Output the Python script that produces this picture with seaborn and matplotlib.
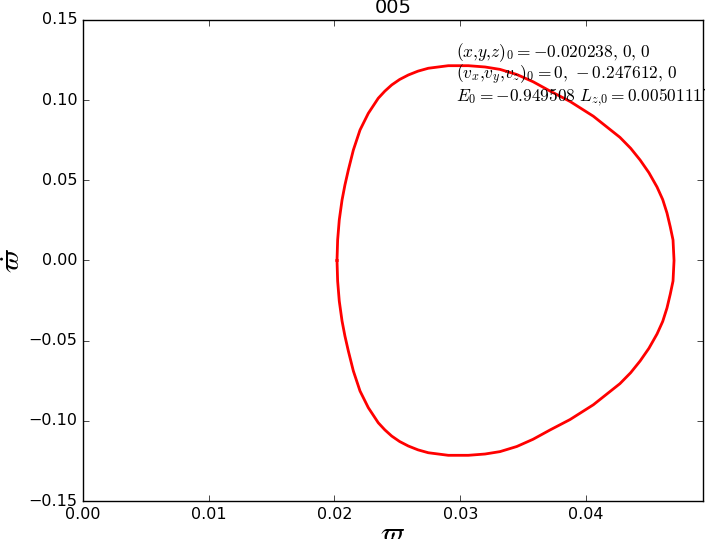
import matplotlib
matplotlib.use("Agg")
import matplotlib.pyplot as plt
import pandas as pd
import seaborn as sns

# upper half of the orbit (left turning point -> top -> right turning point)
varpi_upper = [0.02020, 0.02025, 0.02038, 0.02060, 0.02083, 0.02110, 0.02150,
               0.02203, 0.02269, 0.02348, 0.02400, 0.02455, 0.02518, 0.02587,
               0.02664, 0.02746, 0.02905, 0.03064, 0.03197, 0.03316, 0.03450,
               0.03579, 0.03714, 0.03873, 0.04058, 0.04270, 0.04355, 0.04430,
               0.04500, 0.04565, 0.04610, 0.04644, 0.04670, 0.04692, 0.04700]
vdot_upper = [0.0000, 0.0128, 0.0253, 0.0377, 0.0471, 0.0564, 0.0689,
              0.0814, 0.0918, 0.1012, 0.1056, 0.1095, 0.1129, 0.1157,
              0.1181, 0.1199, 0.1215, 0.1215, 0.1207, 0.1192, 0.1160,
              0.1115, 0.1057, 0.0992, 0.0900, 0.0768, 0.0700, 0.0627,
              0.0548, 0.0458, 0.0380, 0.0296, 0.0210, 0.0128, 0.0000]
# lower half (right turning point -> bottom -> back to the start)
varpi_lower = [0.04700, 0.04692, 0.04670, 0.04644, 0.04610, 0.04565, 0.04500,
               0.04430, 0.04355, 0.04270, 0.04058, 0.03873, 0.03714, 0.03579,
               0.03450, 0.03316, 0.03197, 0.03064, 0.02905, 0.02746, 0.02664,
               0.02587, 0.02518, 0.02455, 0.02400, 0.02348, 0.02269, 0.02203,
               0.02150, 0.02110, 0.02083, 0.02060, 0.02038, 0.02025, 0.02020]
vdot_lower = [0.0000, -0.0128, -0.0210, -0.0296, -0.0380, -0.0458, -0.0548,
              -0.0627, -0.0700, -0.0768, -0.0900, -0.0992, -0.1057, -0.1115,
              -0.1160, -0.1192, -0.1207, -0.1215, -0.1215, -0.1199, -0.1181,
              -0.1157, -0.1129, -0.1095, -0.1056, -0.1012, -0.0918, -0.0814,
              -0.0689, -0.0564, -0.0471, -0.0377, -0.0253, -0.0128, 0.0000]

x_ticks = [0.00, 0.01, 0.02, 0.03, 0.04]
y_ticks = [-0.15, -0.10, -0.05, 0.00, 0.05, 0.10, 0.15]

title = "005"
info_lines = [
    r"$(x{,}y{,}z)_0 = -0.020238{,}\ 0{,}\ 0$",
    r"$(v_x{,}v_y{,}v_z)_0 = 0{,}\ -0.247612{,}\ 0$",
    r"$E_0 = -0.949508\ L_{z{,}0} = 0.00501117$",
]

plt.style.use("classic")
plt.rcParams["figure.facecolor"] = "white"
plt.rcParams["savefig.facecolor"] = "white"
plt.rcParams["mathtext.fontset"] = "cm"

orbit = pd.DataFrame({
    "varpi": varpi_upper + varpi_lower[1:],
    "vdot": vdot_upper + vdot_lower[1:],
})

fig = plt.figure(figsize=(7.05, 5.39), dpi=100)
ax = fig.add_axes([0.1177, 0.0705, 0.8794, 0.8924])

sns.lineplot(data=orbit, x="varpi", y="vdot", sort=False, estimator=None,
             color="red", linewidth=2, ax=ax)

ax.set_xlim(0.0, 0.0493)
ax.set_ylim(-0.15, 0.15)
ax.set_xticks(x_ticks)
ax.set_yticks(y_ticks)
ax.set_xticklabels([f"{t:.2f}" for t in x_ticks])
ax.set_yticklabels([f"{t:.2f}".replace("-", "\u2212") for t in y_ticks])
ax.tick_params(labelsize=11.5)

ax.set_title(title, fontsize=14)
ax.set_xlabel(r"$\varpi$", fontsize=20, labelpad=-2)
ax.set_ylabel(r"$\dot{\varpi}$", fontsize=20, labelpad=2)

ax.text(0.0297, 0.0945, "\n".join(info_lines), fontsize=12.5,
        ha="left", va="bottom", linespacing=0.95)

fig.savefig("out.png", dpi=100)
